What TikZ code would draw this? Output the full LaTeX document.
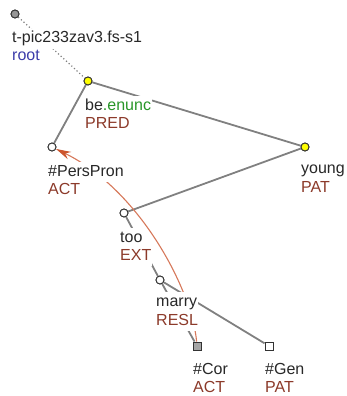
\documentclass[tikz,border=0pt]{standalone}
\usepackage{fontspec}
\setmainfont{Liberation Sans}
\usetikzlibrary{arrows.meta}
\definecolor{edgegray}{RGB}{128,128,128}
\definecolor{fncol}{RGB}{140,58,42}
\definecolor{rootblue}{RGB}{60,60,170}
\definecolor{enuncgreen}{RGB}{40,150,40}
\definecolor{corefcol}{RGB}{214,120,90}
\definecolor{coreftip}{RGB}{205,85,45}
\definecolor{txtcol}{RGB}{40,40,40}
\definecolor{nodeyellow}{RGB}{255,255,0}
\definecolor{rootfill}{RGB}{150,150,150}
\definecolor{corfill}{RGB}{165,165,165}
\tikzset{
  tnode/.style={circle, draw=black!80, line width=0.9pt, minimum size=8pt, inner sep=0pt, fill=white},
  ynode/.style={tnode, fill=nodeyellow},
  snode/.style={rectangle, draw=black!80, line width=0.9pt, minimum size=8pt, inner sep=0pt, fill=white},
  edge/.style={draw=edgegray, line width=1.8pt},
  dotedge/.style={draw=edgegray, line width=1.2pt, dash pattern=on 1.2pt off 2.4pt},
  coref/.style={draw=corefcol, line width=1.1pt, -{Stealth[length=15pt,width=8pt,color=coreftip]}},
  lbl/.style={anchor=base west, fill=white, inner sep=1pt, text=txtcol,
    font=\fontsize{16}{18}\selectfont, execute at begin node=\strut},
  fn/.style={lbl, text=fncol}
}
\begin{document}
\begin{tikzpicture}[x=1pt,y=-1pt]
\useasboundingbox (0,0) rectangle (347,396);
% node positions
\coordinate (proot) at (15,14);
\coordinate (pbe) at (88,81);
\coordinate (ppers) at (52,147);
\coordinate (pyoung) at (305,147);
\coordinate (ptoo) at (124,213);
\coordinate (pmarry) at (160,280);
\coordinate (pcor) at (197,346);
\coordinate (pgen) at (269,346);
% node shapes (named; redrawn on top later)
\node[tnode, fill=rootfill] (root) at (proot) {};
\node[ynode] (be) at (pbe) {};
\node[tnode] (pers) at (ppers) {};
\node[ynode] (young) at (pyoung) {};
\node[tnode] (too) at (ptoo) {};
\node[tnode] (marry) at (pmarry) {};
\node[snode, fill=corfill] (cor) at (pcor) {};
\node[snode] (gen) at (pgen) {};
% edges
\draw[dotedge] (root) -- (be);
\draw[edge] (be) -- (pers);
\draw[edge] (be) -- (young);
\draw[edge] (young) -- (too);
\draw[edge] (too) -- (marry);
\draw[edge] (marry) -- (cor);
\draw[edge] (marry) -- (gen);
% coreference
\draw[coref] (cor) .. controls (192,290) and (140,190) .. (pers);
% labels
\node[lbl] (lroot1) at (11,43) {t-pic233zav3.fs-s1};
\node[lbl, text=rootblue] (lroot2) at (11,61) {root};
\node[lbl] (lbe1) at (84,110) {be\textcolor{enuncgreen}{.enunc}};
\node[fn] (lbe2) at (84,128) {PRED};
\node[lbl] (lpers1) at (47,176) {\#PersPron};
\node[fn] (lpers2) at (47,194) {ACT};
\node[lbl] (lyoung1) at (300,173) {young};
\node[fn] (lyoung2) at (300,192) {PAT};
\node[lbl] (ltoo1) at (119,242) {too};
\node[fn] (ltoo2) at (119,260) {EXT};
\node[lbl] (lmarry1) at (155,306) {marry};
\node[fn] (lmarry2) at (155,325) {RESL};
\node[lbl] (lcor1) at (192,374) {\#Cor};
\node[fn] (lcor2) at (192,392) {ACT};
\node[lbl] (lgen1) at (264,374) {\#Gen};
\node[fn] (lgen2) at (264,392) {PAT};
% node shapes on top
\node[tnode, fill=rootfill] at (proot) {};
\node[ynode] at (pbe) {};
\node[tnode] at (ppers) {};
\node[ynode] at (pyoung) {};
\node[tnode] at (ptoo) {};
\node[tnode] at (pmarry) {};
\node[snode, fill=corfill] at (pcor) {};
\node[snode] at (pgen) {};
\end{tikzpicture}
\end{document}
